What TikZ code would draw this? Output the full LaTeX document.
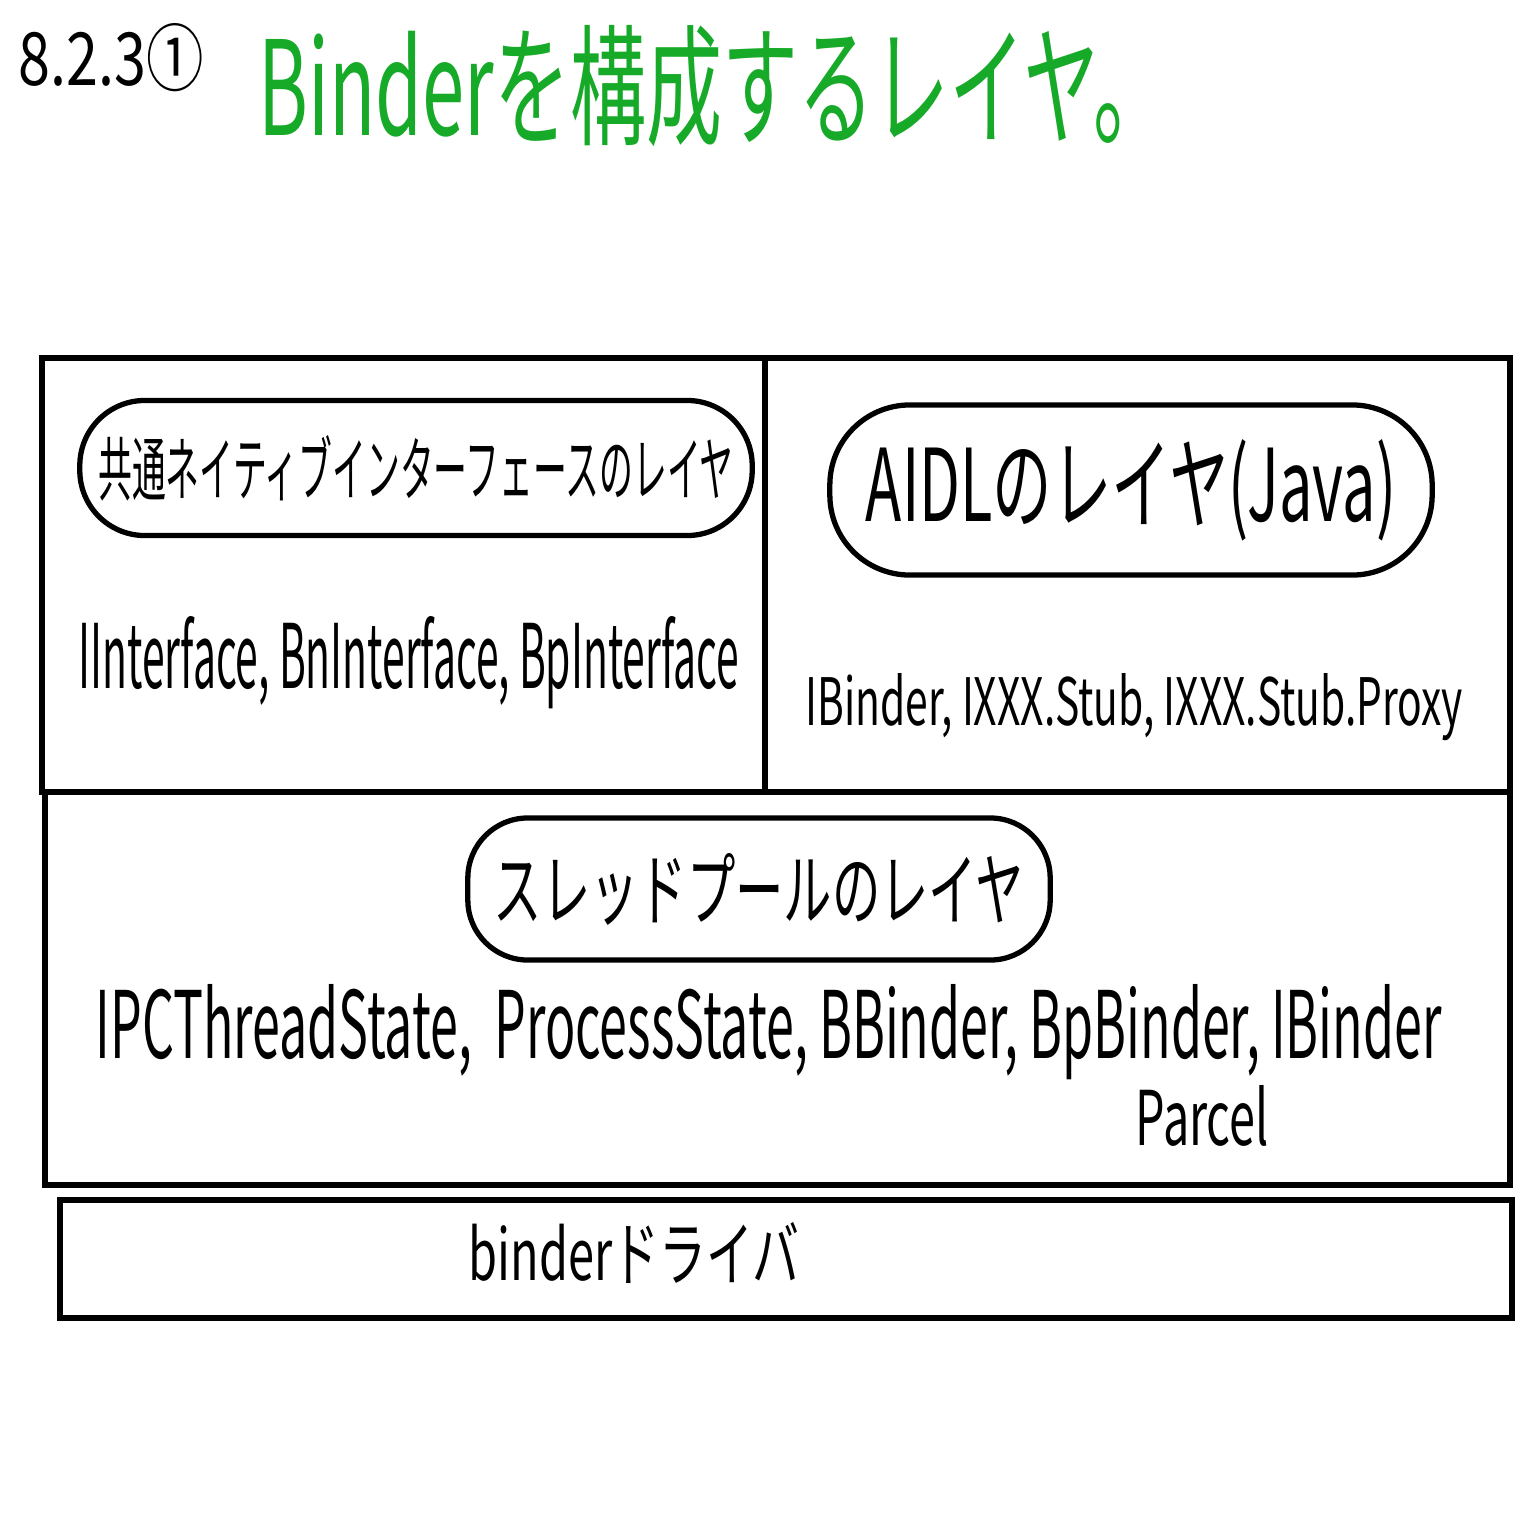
\documentclass[tikz,border=0pt]{standalone}
\usepackage{fontspec}
\setmainfont{Noto Sans CJK JP}
\usepackage{graphicx}
\usepackage{tikz}
\usetikzlibrary{fit}
\usepackage{xcolor}
\definecolor{titlegreen}{RGB}{22,170,40}
\newcommand{\hand}[3]{\resizebox{#1}{#2}{#3}}

\begin{document}
\begin{tikzpicture}[x=0.01cm, y=-0.01cm,
    layerbox/.style={draw, line width=1.5pt, inner sep=0pt},
    bubble/.style={draw, line width=1.5pt, inner sep=0pt, rounded corners=#1},
    scribble/.style={anchor=base west, inner sep=0pt}]
    \fill[white] (0,0) rectangle (1536,1536);
    \useasboundingbox (0,0) rectangle (1536,1536);

    \node[scribble] (secno) at (18,85) {\hand{1.85cm}{0.62cm}{8.2.3①}};
    \node[scribble, text=titlegreen] (title) at (258,135) {\hand{9.1cm}{1.1cm}{Binderを構成するレイヤ。}};

    \node[layerbox, fit={(42,358) (765,792)}] (nativebox) {};
    \node[layerbox, fit={(765,358) (1510,792)}] (aidlbox) {};
    \node[layerbox, fit={(45,792) (1510,1185)}] (threadbox) {};
    \node[layerbox, fit={(60,1200) (1512,1318)}] (driverbox) {};

    \node[bubble=0.65cm, minimum width=6.72cm, minimum height=1.35cm] (nativebubble) at (416,468) {\hand{6.35cm}{0.6cm}{共通ネイティブインターフェースのレイヤ}};
    \node[bubble=0.8cm, minimum width=6.02cm, minimum height=1.7cm] (aidlbubble) at (1131,490) {\hand{5.3cm}{0.82cm}{AIDLのレイヤ(Java)}};
    \node[bubble=0.6cm, minimum width=5.82cm, minimum height=1.42cm] (threadbubble) at (759,889) {\hand{5.3cm}{0.66cm}{スレッドプールのレイヤ}};

    \node[scribble] (nativeclasses) at (78,688) {\hand{6.6cm}{0.72cm}{IInterface, BnInterface, BpInterface}};
    \node[scribble] (aidlclasses) at (805,725) {\hand{6.57cm}{0.52cm}{IBinder, IXXX.Stub, IXXX.Stub.Proxy}};
    \node[scribble] (threadclasses) at (95,1058) {\hand{13.45cm}{0.74cm}{IPCThreadState,\ \ ProcessState, BBinder, BpBinder, IBinder}};
    \node[scribble] (parcel) at (1135,1145) {\hand{1.33cm}{0.6cm}{Parcel}};
    \node[scribble] (driver) at (468,1280) {\hand{3.3cm}{0.58cm}{binderドライバ}};
\end{tikzpicture}
\end{document}
